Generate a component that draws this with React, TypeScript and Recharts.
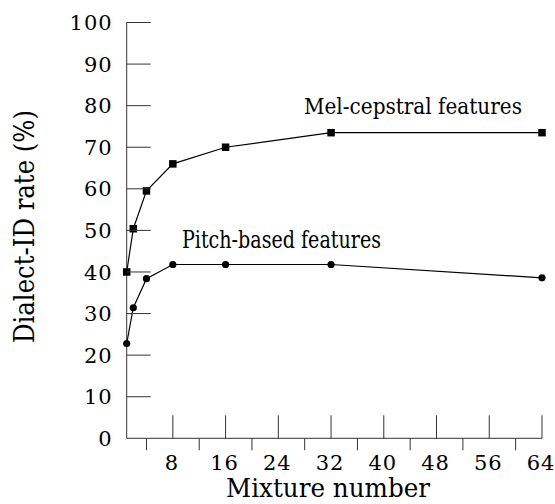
import { Line, LineChart, XAxis, YAxis } from "recharts"

const mixtures = [1, 2, 4, 8, 16, 32, 64]
const melCepstral = [40, 50.4, 59.5, 66, 70, 73.5, 73.5]
const pitchBased = [22.8, 31.4, 38.4, 41.8, 41.8, 41.8, 38.6]
const xTicks = [4, 8, 12, 16, 20, 24, 28, 32, 36, 40, 44, 48, 52, 56, 60, 64]
const yTicks = [0, 10, 20, 30, 40, 50, 60, 70, 80, 90, 100]

const data = mixtures.map((m, i) => ({
  mixture: m,
  mel: melCepstral[i],
  pitch: pitchBased[i],
}))

// only serif face that is really installed here
const font = "DejaVu Serif"
const ink = "#000"
const axisColor = "#333"

function YTick({ x, y, payload }: any) {
  return (
    <g>
      {payload.value !== 0 && (
        <line x1={x} x2={x + 24} y1={y} y2={y} stroke={axisColor} strokeWidth={1} />
      )}
      <text
        x={x - 14}
        y={y}
        dy="0.36em"
        textAnchor="end"
        fontFamily={font}
        fontSize={21}
        letterSpacing={1}
        fill={ink}
      >
        {payload.value}
      </text>
    </g>
  )
}

function XTick({ x, y, payload }: any) {
  const major = payload.value % 8 === 0
  if (!major) {
    return <line x1={x} x2={x} y1={y} y2={y + 12} stroke={axisColor} strokeWidth={1} />
  }
  return (
    <g>
      <line x1={x} x2={x} y1={y - 23} y2={y} stroke={axisColor} strokeWidth={1} />
      <text
        x={x - 1}
        y={y + 24}
        dy="0.36em"
        textAnchor="middle"
        fontFamily={font}
        fontSize={21}
        letterSpacing={1}
        fill={ink}
      >
        {payload.value}
      </text>
    </g>
  )
}

function SquareDot({ cx, cy, index }: any) {
  return <rect key={`sq-${index}`} x={cx - 3.75} y={cy - 3.75} width={7.5} height={7.5} fill={ink} />
}

function RoundDot({ cx, cy, index }: any) {
  return <circle key={`ci-${index}`} cx={cx} cy={cy} r={3.6} fill={ink} />
}

export default function App() {
  return (
    <div style={{ position: "absolute", left: 0, top: 0, width: 555, height: 504, background: "#fff" }}>
      <LineChart
        width={555}
        height={504}
        data={data}
        margin={{ top: 22.5, right: 13, bottom: 35.7, left: 66.7 }}
      >
        <XAxis
          dataKey="mixture"
          type="number"
          domain={[1, 64]}
          ticks={xTicks}
          interval={0}
          tickSize={0}
          tickMargin={0}
          tickLine={false}
          tick={<XTick />}
          stroke={axisColor}
          height={30}
        />
        <YAxis
          type="number"
          domain={[0, 100]}
          ticks={yTicks}
          interval={0}
          tickSize={0}
          tickMargin={0}
          tickLine={false}
          tick={<YTick />}
          stroke={axisColor}
          width={60}
        />
        <Line
          dataKey="mel"
          stroke={ink}
          strokeWidth={1.2}
          dot={SquareDot}
          activeDot={false}
          isAnimationActive={false}
        />
        <Line
          dataKey="pitch"
          stroke={ink}
          strokeWidth={1.2}
          dot={RoundDot}
          activeDot={false}
          isAnimationActive={false}
        />
      </LineChart>
      <svg
        width={555}
        height={504}
        style={{ position: "absolute", left: 0, top: 0, pointerEvents: "none" }}
      >
        <text
          x={304}
          y={114}
          fontFamily={font}
          fontSize={23}
          textLength={218}
          lengthAdjust="spacingAndGlyphs"
          fill={ink}
        >
          Mel-cepstral features
        </text>
        <text
          x={182}
          y={248}
          fontFamily={font}
          fontSize={24}
          textLength={199}
          lengthAdjust="spacingAndGlyphs"
          fill={ink}
        >
          Pitch-based features
        </text>
        <text
          x={34}
          y={110}
          transform="rotate(-90 34 110)"
          textAnchor="end"
          fontFamily={font}
          fontSize={28}
          textLength={233}
          lengthAdjust="spacingAndGlyphs"
          fill={ink}
        >
          Dialect-ID rate (%)
        </text>
        <text
          x={226}
          y={497}
          fontFamily={font}
          fontSize={26}
          textLength={204}
          lengthAdjust="spacingAndGlyphs"
          fill={ink}
        >
          Mixture number
        </text>
      </svg>
    </div>
  )
}
